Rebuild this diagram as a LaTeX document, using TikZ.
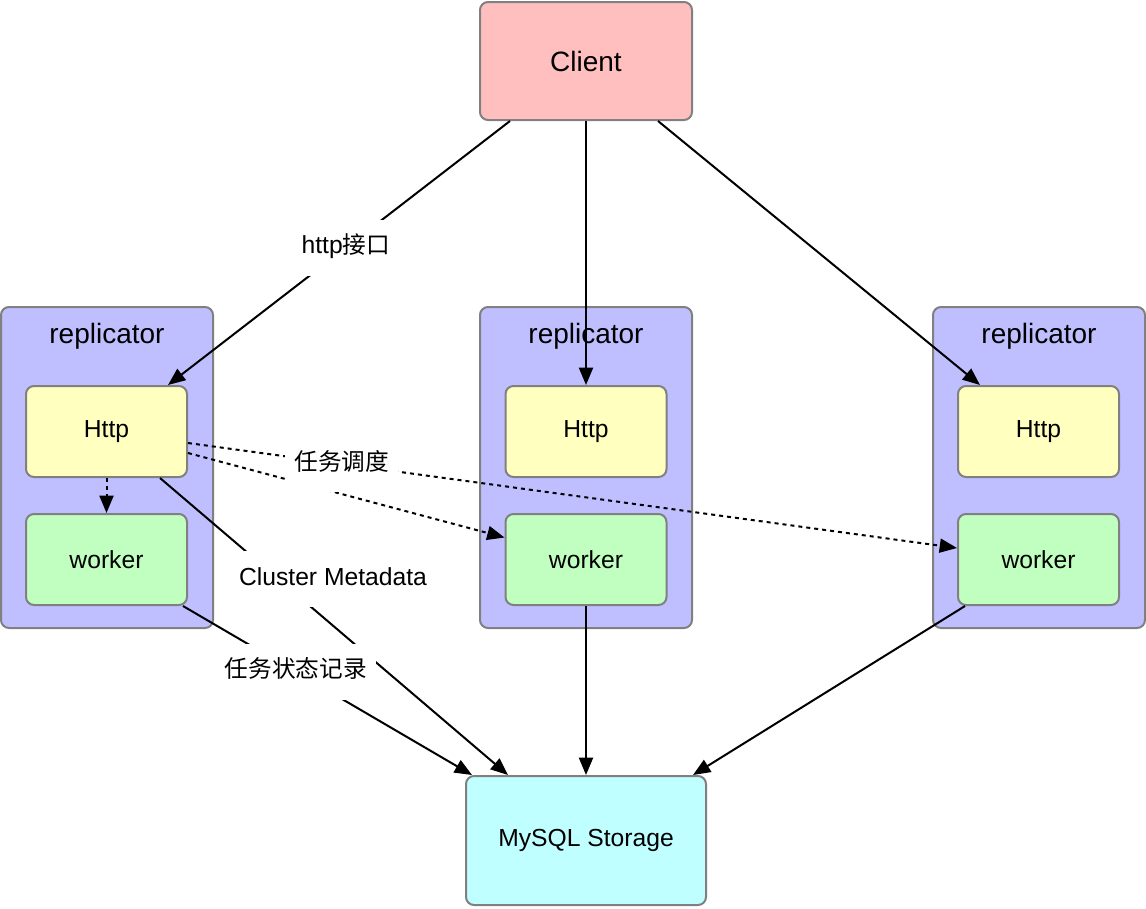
\documentclass[tikz,border=0pt]{standalone}
\usepackage{fontspec}
\setmainfont{Liberation Sans}
\newfontfamily\cjk[Scale=0.96]{Noto Sans CJK SC}
\usetikzlibrary{arrows.meta,calc}
\definecolor{clientpink}{RGB}{255,191,191}
\definecolor{replilav}{RGB}{191,191,255}
\definecolor{httpyellow}{RGB}{255,255,192}
\definecolor{workergreen}{RGB}{192,255,192}
\definecolor{storecyan}{RGB}{192,255,255}
\definecolor{boxgray}{RGB}{128,128,128}

\begin{document}
\begin{tikzpicture}[x=0.75pt,y=-0.75pt,
		box/.style={draw=boxgray,line width=1.5pt,rounded corners=6pt,inner sep=0pt},
		bigtext/.style={font=\fontsize{21}{25}\selectfont},
		smalltext/.style={font=\fontsize{18.5}{22}\selectfont},
		repbox/.style={box,fill=replilav,minimum width=159pt,minimum height=240.75pt},
		httpbox/.style={box,fill=httpyellow,minimum width=120.75pt,minimum height=68.25pt,smalltext},
		workbox/.style={box,fill=workergreen,minimum width=120.75pt,minimum height=68.25pt,smalltext},
		flow/.style={line width=1.5pt,-{Triangle[length=13pt,width=10.5pt]}},
		sched/.style={flow,dash pattern=on 3pt off 3pt},
		lbl/.style={fill=white,inner xsep=7pt,inner ysep=12.5pt,text height=13pt,text depth=4pt,smalltext}]
		\useasboundingbox (0,0) rectangle (1146,908);
		
		\node[box,fill=clientpink,minimum width=159pt,minimum height=88.5pt,bigtext] (client) at (586,61) {Client};
		
		\node[repbox] (repL) at (107,467.5) {};
		\node[repbox] (repM) at (586,467.5) {};
		\node[repbox] (repR) at (1039,467.5) {};
		\node[bigtext] (repLtxt) at (107,336) {replicator};
		\node[bigtext] (repMtxt) at (586,336) {replicator};
		\node[bigtext] (repRtxt) at (1039,336) {replicator};
		
		\node[httpbox] (httpL) at (106.5,431.5) {Http};
		\node[httpbox] (httpM) at (586,431.5) {Http};
		\node[httpbox] (httpR) at (1038.5,431.5) {Http};
		\node[workbox] (workerL) at (106.5,559.5) {worker};
		\node[workbox] (workerM) at (586,559.5) {worker};
		\node[workbox] (workerR) at (1038.5,559.5) {worker};
		
		\node[box,fill=storecyan,minimum width=180pt,minimum height=96.75pt,smalltext] (store) at (586,840.5) {MySQL Storage};
		
		\draw[flow] ($(client.south)+(-76,0)$) -- node[lbl,pos=0.48] (lblhttp) {http\cjk 接口} ($(httpL.north)+(61.5,0)$);
		\draw[flow] (client.south) -- (httpM.north);
		\draw[flow] ($(client.south)+(72,0)$) -- ($(httpR.north)+(-58.5,0)$);
		
		\draw[sched] (httpL.south) -- (workerL.north);
		\draw[sched] ($(httpL.east)+(0,21.5)$) -- ($(workerM.west)+(0,-22)$);
		\draw[sched] ($(httpL.east)+(0,11.5)$) -- node[lbl,pos=0.2] (lblsched) {\cjk 任务调度} ($(workerR.west)+(0,-11.5)$);
		
		\draw[flow] ($(httpL.south)+(53.5,0)$) -- ($(store.north)+(-78,0)$);
		\node[lbl] (lblmeta) at (333,579) {Cluster Metadata};
		\draw[flow] ($(workerL.south)+(76.5,0)$) -- node[lbl,pos=0.39] (lblstate) {\cjk 任务状态记录} ($(store.north)+(-114,0)$);
		\draw[flow] (workerM.south) -- (store.north);
		\draw[flow] ($(workerR.south)+(-73.5,0)$) -- ($(store.north)+(107,0)$);
	\end{tikzpicture}
\end{document}
